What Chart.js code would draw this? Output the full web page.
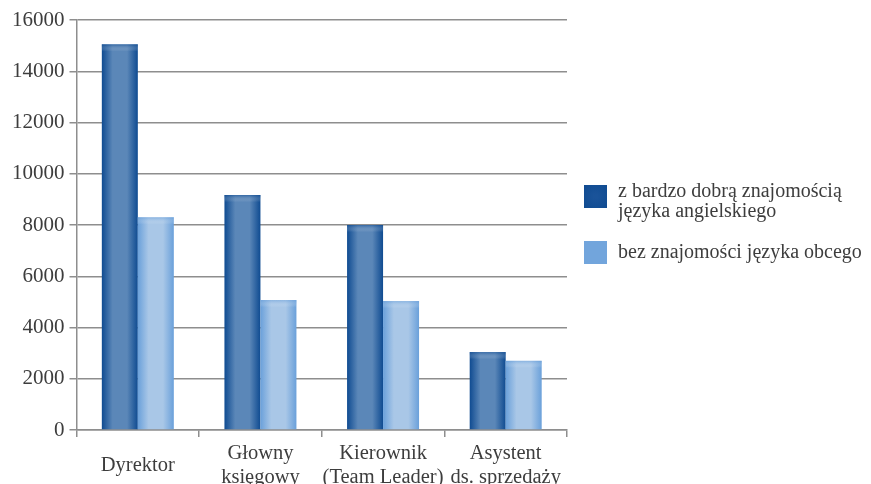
<!DOCTYPE html>
<html lang="pl">
<head>
<meta charset="utf-8">
<title>Wynagrodzenia a znajomość języka</title>
<script src="https://cdn.jsdelivr.net/npm/chart.js@4/dist/chart.umd.min.js"></script>
<style>
  html, body { margin: 0; padding: 0; background: #ffffff; }
  #wrap { position: relative; width: 871px; height: 484px; }
</style>
</head>
<body>
<div id="wrap"><canvas id="chart" width="871" height="484"></canvas></div>
<script>
// Stanowiska (etykiety osi X, wiele linii)
const categories = [
  'Dyrektor',
  ['Głowny', 'księgowy'],
  ['Kierownik', '(Team Leader)'],
  ['Asystent', 'ds. sprzedaży']
];

// Nazwy serii (legenda)
const seriesNames = [
  ['z bardzo dobrą znajomością', 'języka angielskiego'],
  ['bez znajomości języka obcego']
];

// Wynagrodzenia
const withEnglish = [15050, 9170, 8000, 3040];
const noLanguage  = [8300, 5070, 5030, 2700];

// Oś Y
const yMin = 0, yMax = 16000, yStep = 2000;

const FONT = '"Liberation Serif", "DejaVu Serif", serif';
const TEXT = '#3d3d3d';
const GRID = '#8e8e8e';

// Kolory: krawędź słupka i jego jaśniejszy środek
const palette = [
  { edge: '#0f4b91', mid: '#5b87b8', legend: '#1a5399' },
  { edge: '#6aa0da', mid: '#a9c7e7', legend: '#72a5dc' }
];

// Słupki z cieniowaniem (gradient poziomy + lekko przyciemniona górna krawędź)
const shadedBars = {
  id: 'shadedBars',
  afterDatasetsDraw(chart) {
    const ctx = chart.ctx;
    chart.data.datasets.forEach((ds, di) => {
      const meta = chart.getDatasetMeta(di);
      if (meta.hidden) return;
      const c = palette[di];
      meta.data.forEach(bar => {
        const { x, y, base, width } = bar.getProps(['x', 'y', 'base', 'width'], true);
        const left = x - width / 2, right = x + width / 2;
        const top = Math.min(y, base), h = Math.abs(base - y);
        const g = ctx.createLinearGradient(left, 0, right, 0);
        g.addColorStop(0, c.edge);
        g.addColorStop(0.3, c.mid);
        g.addColorStop(0.7, c.mid);
        g.addColorStop(1, c.edge);
        ctx.save();
        ctx.fillStyle = g;
        ctx.fillRect(left, top, width, h);
        const v = ctx.createLinearGradient(0, top, 0, top + 7);
        v.addColorStop(0, c.edge);
        v.addColorStop(1, 'rgba(255,255,255,0)');
        ctx.globalAlpha = 0.55;
        ctx.fillStyle = v;
        ctx.fillRect(left, top, width, Math.min(7, h));
        ctx.restore();
      });
    });
  }
};

// Legenda po prawej stronie wykresu
const sideLegend = {
  id: 'sideLegend',
  afterDraw(chart) {
    const ctx = chart.ctx;
    const boxX = 584, box = 23, textX = 618, lineH = 20;
    const boxCenters = [196.5, 252.5];
    const textTops = [192, 252.5];
    ctx.save();
    ctx.font = '20px ' + FONT;
    ctx.textBaseline = 'middle';
    ctx.textAlign = 'left';
    seriesNames.forEach((lines, i) => {
      const cy = boxCenters[i];
      const g = ctx.createRadialGradient(boxX + box / 2, cy, 2, boxX + box / 2, cy, box * 0.7);
      g.addColorStop(0, palette[i].legend);
      g.addColorStop(1, palette[i].edge);
      ctx.fillStyle = i === 0 ? g : palette[i].legend;
      ctx.fillRect(boxX, cy - box / 2, box, box);
      ctx.fillStyle = TEXT;
      lines.forEach((t, k) => ctx.fillText(t, textX, textTops[i] + k * lineH));
    });
    ctx.restore();
  }
};

new Chart(document.getElementById('chart'), {
  type: 'bar',
  data: {
    labels: categories,
    datasets: [
      { label: seriesNames[0].join(' '), data: withEnglish, backgroundColor: 'rgba(0,0,0,0)' },
      { label: seriesNames[1].join(' '), data: noLanguage, backgroundColor: 'rgba(0,0,0,0)' }
    ]
  },
  options: {
    responsive: false,
    animation: false,
    devicePixelRatio: 1,
    layout: { padding: { left: 7, right: 304, top: 20, bottom: 0 } },
    datasets: { bar: { categoryPercentage: 0.587, barPercentage: 1.0, borderWidth: 0 } },
    plugins: {
      legend: { display: false },
      tooltip: { enabled: false }
    },
    scales: {
      x: {
        afterFit: scale => { scale.height = 54; },
        grid: {
          offset: true,
          drawOnChartArea: false,
          drawTicks: true,
          tickLength: 7,
          color: GRID,
          lineWidth: 1.5
        },
        border: { display: true, color: GRID, width: 1.5 },
        ticks: {
          color: TEXT,
          font: { family: FONT, size: 20.5, lineHeight: 1.13 },
          crossAlign: 'center',
          padding: 17,
          maxRotation: 0,
          autoSkip: false
        }
      },
      y: {
        min: yMin,
        max: yMax,
        ticks: {
          stepSize: yStep,
          color: TEXT,
          font: { family: FONT, size: 21 },
          padding: 5,
          callback: v => String(v)
        },
        grid: { color: GRID, lineWidth: 1.5, tickLength: 7 },
        border: { display: true, color: GRID, width: 1.5 }
      }
    }
  },
  plugins: [shadedBars, sideLegend]
});
</script>
</body>
</html>
